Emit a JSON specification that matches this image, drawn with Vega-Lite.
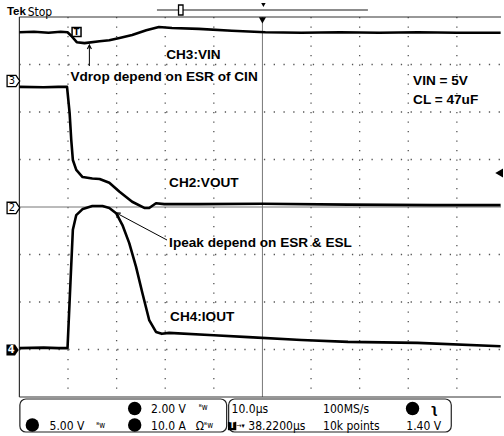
{
"$schema": "https://vega.github.io/schema/vega-lite/v6.json",
"width": 504, "height": 436,
"autosize": {"type": "fit", "contains": "padding"},
"padding": 0,
"background": "white",
"config": {"view": {"stroke": null}},
"datasets": {
"hgrid": [{"t":-50,"v":3,"t2":49.08,"v2":3},{"t":-50,"v":2,"t2":49.08,"v2":2},{"t":-50,"v":1,"t2":49.08,"v2":1},{"t":-50,"v":-1,"t2":49.08,"v2":-1},{"t":-50,"v":-2,"t2":49.08,"v2":-2},{"t":-50,"v":-3,"t2":49.08,"v2":-3}],
"vgrid": [{"t":-40,"v":4,"t2":-40,"v2":-4},{"t":-30,"v":4,"t2":-30,"v2":-4},{"t":-20,"v":4,"t2":-20,"v2":-4},{"t":-10,"v":4,"t2":-10,"v2":-4},{"t":10,"v":4,"t2":10,"v2":-4},{"t":20,"v":4,"t2":20,"v2":-4},{"t":30,"v":4,"t2":30,"v2":-4},{"t":40,"v":4,"t2":40,"v2":-4}],
"center": [{"t":0,"v":4,"t2":0,"v2":-4},{"t":-50,"v":0,"t2":49.08,"v2":0}],
"border": [{"t":-50,"v":-4,"t2":-50,"v2":4},{"t":-50,"v":4,"t2":49.08,"v2":4},{"t":-50,"v":-4,"t2":49.08,"v2":-4}],
"xt": [{"t":-48},{"t":-46},{"t":-44},{"t":-42},{"t":-40},{"t":-38},{"t":-36},{"t":-34},{"t":-32},{"t":-30},{"t":-28},{"t":-26},{"t":-24},{"t":-22},{"t":-20},{"t":-18},{"t":-16},{"t":-14},{"t":-12},{"t":-10},{"t":-8},{"t":-6},{"t":-4},{"t":-2},{"t":0},{"t":2},{"t":4},{"t":6},{"t":8},{"t":10},{"t":12},{"t":14},{"t":16},{"t":18},{"t":20},{"t":22},{"t":24},{"t":26},{"t":28},{"t":30},{"t":32},{"t":34},{"t":36},{"t":38},{"t":40},{"t":42},{"t":44},{"t":46},{"t":48}],
"yt": [{"v":-3.8},{"v":-3.6},{"v":-3.4},{"v":-3.2},{"v":-3},{"v":-2.8},{"v":-2.6},{"v":-2.4},{"v":-2.2},{"v":-2},{"v":-1.8},{"v":-1.6},{"v":-1.4},{"v":-1.2},{"v":-1},{"v":-0.8},{"v":-0.6},{"v":-0.4},{"v":-0.2},{"v":0},{"v":0.2},{"v":0.4},{"v":0.6},{"v":0.8},{"v":1},{"v":1.2},{"v":1.4},{"v":1.6},{"v":1.8},{"v":2},{"v":2.2},{"v":2.4},{"v":2.6},{"v":2.8},{"v":3},{"v":3.2},{"v":3.4},{"v":3.6},{"v":3.8}],
"traces": [
{"ch":"CH3","t":-50,"v":3.68},{"ch":"CH3","t":-47,"v":3.69},{"ch":"CH3","t":-44,"v":3.67},{"ch":"CH3","t":-41.5,"v":3.69},{"ch":"CH3","t":-40.1,"v":3.68},{"ch":"CH3","t":-39.3,"v":3.6},{"ch":"CH3","t":-38.2,"v":3.47},{"ch":"CH3","t":-36.6,"v":3.45},{"ch":"CH3","t":-33.5,"v":3.49},{"ch":"CH3","t":-31.5,"v":3.51},{"ch":"CH3","t":-29.4,"v":3.56},{"ch":"CH3","t":-26.8,"v":3.62},{"ch":"CH3","t":-23.9,"v":3.72},{"ch":"CH3","t":-21.3,"v":3.79},{"ch":"CH3","t":-18.6,"v":3.77},{"ch":"CH3","t":-13.1,"v":3.75},{"ch":"CH3","t":-6.3,"v":3.71},{"ch":"CH3","t":0.6,"v":3.68},{"ch":"CH3","t":8,"v":3.67},{"ch":"CH3","t":16,"v":3.68},{"ch":"CH3","t":24,"v":3.67},{"ch":"CH3","t":32,"v":3.68},{"ch":"CH3","t":40,"v":3.67},{"ch":"CH3","t":49,"v":3.67},
{"ch":"CH2","t":-50,"v":2.53},{"ch":"CH2","t":-45,"v":2.52},{"ch":"CH2","t":-42,"v":2.53},{"ch":"CH2","t":-40.2,"v":2.53},{"ch":"CH2","t":-39.67,"v":1.98},{"ch":"CH2","t":-39.33,"v":1.41},{"ch":"CH2","t":-39.0,"v":0.99},{"ch":"CH2","t":-38.3,"v":0.78},{"ch":"CH2","t":-37,"v":0.63},{"ch":"CH2","t":-35,"v":0.6},{"ch":"CH2","t":-33.5,"v":0.59},{"ch":"CH2","t":-31.5,"v":0.51},{"ch":"CH2","t":-29.4,"v":0.32},{"ch":"CH2","t":-26.8,"v":0.11},{"ch":"CH2","t":-24.3,"v":-0.02},{"ch":"CH2","t":-23.3,"v":-0.02},{"ch":"CH2","t":-21.9,"v":0.08},{"ch":"CH2","t":-20.2,"v":0.06},{"ch":"CH2","t":-13.1,"v":0.06},{"ch":"CH2","t":0,"v":0.07},{"ch":"CH2","t":17.6,"v":0.05},{"ch":"CH2","t":35,"v":0.04},{"ch":"CH2","t":49,"v":0.04},
{"ch":"CH4","t":-50,"v":-2.97},{"ch":"CH4","t":-45,"v":-2.96},{"ch":"CH4","t":-42,"v":-2.97},{"ch":"CH4","t":-40.1,"v":-2.97},{"ch":"CH4","t":-39.5,"v":-1.6},{"ch":"CH4","t":-39.0,"v":-0.48},{"ch":"CH4","t":-38.3,"v":-0.17},{"ch":"CH4","t":-36.95,"v":-0.04},{"ch":"CH4","t":-35,"v":0.02},{"ch":"CH4","t":-32.9,"v":0.02},{"ch":"CH4","t":-31.5,"v":-0.02},{"ch":"CH4","t":-30.1,"v":-0.13},{"ch":"CH4","t":-28.8,"v":-0.38},{"ch":"CH4","t":-27.4,"v":-0.76},{"ch":"CH4","t":-26,"v":-1.26},{"ch":"CH4","t":-24.7,"v":-1.81},{"ch":"CH4","t":-23.3,"v":-2.38},{"ch":"CH4","t":-21.9,"v":-2.63},{"ch":"CH4","t":-20.7,"v":-2.67},{"ch":"CH4","t":-19.2,"v":-2.65},{"ch":"CH4","t":-10,"v":-2.7},{"ch":"CH4","t":-2.9,"v":-2.74},{"ch":"CH4","t":8,"v":-2.8},{"ch":"CH4","t":17.6,"v":-2.84},{"ch":"CH4","t":31.9,"v":-2.86},{"ch":"CH4","t":49,"v":-2.93}
],
"chmark": [{"t":-51.23,"v":2.653,"label":"3"},{"t":-51.23,"v":-0.02,"label":"2"}],
"chmark4": [{"t":-51.4,"v":-3.01,"label":"4"}],
"trig": [{"t":-38.24,"v":3.684,"label":"T"}],
"topbar": [{"t":-21.7,"v":4.147,"t2":21.7,"v2":4.147}],
"barT": [{"t":-16.8,"v":4.147}],
"smalltri": [{"t":0.2,"v":4.253}],
"trigpos": [{"t":0,"v":3.93}],
"triglevel": [{"t":48.7,"v":0.716}],
"arrows": [{"t":-35.6,"v":2.968,"t2":-35.6,"v2":3.40},{"t":-19.63,"v":-0.695,"t2":-30.06,"v2":-0.126}],
"headUp": [{"t":-35.6,"v":3.41}],
"headIpeak": [{"t":-30.06,"v":-0.126}],
"notes": [{"t":-19.8,"v":3.2,"label":"CH3:VIN"},{"t":-39.5,"v":2.737,"label":"Vdrop depend on ESR of CIN"},{"t":-19.2,"v":0.505,"label":"CH2:VOUT"},{"t":-19.2,"v":-0.758,"label":"Ipeak depend on ESR & ESL"},{"t":-19.0,"v":-2.316,"label":"CH4:IOUT"},{"t":31.0,"v":2.653,"label":"VIN = 5V"},{"t":31.0,"v":2.253,"label":"CL = 47uF"}],
"tek": [{"t":-52.56,"v":4.105,"label":"Tek"}],
"stop": [{"t":-48.3,"v":4.105,"label":"Stop"}],
"boxes": [{"t":-49.9,"v":-4.042,"t2":-7.36,"v2":-4.737},{"t":-6.95,"v":-4.042,"t2":38.85,"v2":-4.737}],
"dots": [{"t":-47.34,"v":-4.589},{"t":-26.28,"v":-4.242},{"t":-26.28,"v":-4.589},{"t":30.88,"v":-4.242}],
"status": [{"t":-22.9,"v":-4.253,"label":"2.00 V"},{"t":-43.8,"v":-4.611,"label":"5.00 V"},{"t":-22.9,"v":-4.611,"label":"10.0 A"},{"t":-13.7,"v":-4.611,"label":"Ω"},{"t":-6.34,"v":-4.253,"label":"10.0µs"},{"t":12.47,"v":-4.253,"label":"100MS/s"},{"t":-2.9,"v":-4.611,"label":"38.2200µs"},{"t":12.47,"v":-4.611,"label":"10k points"},{"t":29.6,"v":-4.611,"label":"1.40 V"}],
"bw": [{"t":-13.1,"v":-4.24,"label":"ᴮw"},{"t":-34.2,"v":-4.6,"label":"ᴮw"},{"t":-12.0,"v":-4.6,"label":"ᴮw"}],
"slope": [{"t":34.56,"v":-4.253,"label":"ʅ"}],
"tbox": [{"t":-6.24,"v":-4.611,"label":"T"}],
"tarrow": [{"t":-5.4,"v":-4.611,"label":"→▾"}]
},
"encoding": {
"x": {"field":"t","type":"quantitative","scale":{"domain":[-53.99,49.08],"nice":false,"zero":false},"axis":null},
"y": {"field":"v","type":"quantitative","scale":{"domain":[-4.821,4.358],"nice":false,"zero":false},"axis":null}
},
"layer": [
{"data":{"name":"hgrid"},"mark":{"type":"rule","color":"#555","strokeWidth":1.3,"strokeDash":[1.3,8.48]},"encoding":{"x2":{"field":"t2"},"y2":{"field":"v2"}}},
{"data":{"name":"vgrid"},"mark":{"type":"rule","color":"#555","strokeWidth":1.3,"strokeDash":[1.3,8.2]},"encoding":{"x2":{"field":"t2"},"y2":{"field":"v2"}}},
{"data":{"name":"center"},"mark":{"type":"rule","color":"#777","strokeWidth":1},"encoding":{"x2":{"field":"t2"},"y2":{"field":"v2"}}},
{"data":{"name":"border"},"mark":{"type":"rule","color":"#333","strokeWidth":1.2},"encoding":{"x2":{"field":"t2"},"y2":{"field":"v2"}}},
{"data":{"name":"xt"},"mark":{"type":"tick","orient":"vertical","size":4,"thickness":1,"color":"#444","yOffset":2},"encoding":{"y":{"datum":4,"type":"quantitative","scale":{"domain":[-4.821,4.358],"nice":false,"zero":false},"axis":null}}},
{"data":{"name":"xt"},"mark":{"type":"tick","orient":"vertical","size":4,"thickness":1,"color":"#444","yOffset":-2},"encoding":{"y":{"datum":-4,"type":"quantitative","scale":{"domain":[-4.821,4.358],"nice":false,"zero":false},"axis":null}}},
{"data":{"name":"xt"},"mark":{"type":"tick","orient":"vertical","size":6,"thickness":1,"color":"#555"},"encoding":{"y":{"datum":0,"type":"quantitative","scale":{"domain":[-4.821,4.358],"nice":false,"zero":false},"axis":null}}},
{"data":{"name":"yt"},"mark":{"type":"tick","orient":"horizontal","size":4,"thickness":1,"color":"#444","xOffset":2},"encoding":{"x":{"datum":-50,"type":"quantitative","scale":{"domain":[-53.99,49.08],"nice":false,"zero":false},"axis":null}}},
{"data":{"name":"yt"},"mark":{"type":"tick","orient":"horizontal","size":6,"thickness":1,"color":"#555"},"encoding":{"x":{"datum":0,"type":"quantitative","scale":{"domain":[-53.99,49.08],"nice":false,"zero":false},"axis":null}}},
{"data":{"name":"traces"},"mark":{"type":"line","color":"#000","strokeWidth":2.6,"strokeJoin":"round"},"encoding":{"detail":{"field":"ch"}}},
{"data":{"name":"topbar"},"mark":{"type":"rule","color":"#666","strokeWidth":1.5},"encoding":{"x2":{"field":"t2"},"y2":{"field":"v2"}}},
{"data":{"name":"barT"},"mark":{"type":"point","shape":"M-0.45,-1L0.45,-1L0.45,1L-0.45,1Z","size":100,"filled":true,"fill":"white","stroke":"#000","strokeWidth":1.3,"opacity":1}},
{"data":{"name":"smalltri"},"mark":{"type":"point","shape":"triangle-down","size":20,"filled":true,"color":"#000","opacity":1}},
{"data":{"name":"trigpos"},"mark":{"type":"point","shape":"triangle-down","size":50,"filled":true,"color":"#000","opacity":1}},
{"data":{"name":"triglevel"},"mark":{"type":"point","shape":"triangle-left","size":80,"filled":true,"color":"#000","opacity":1}},
{"data":{"name":"chmark"},"mark":{"type":"point","shape":"M-1,-0.9L0.4,-0.9L1,0L0.4,0.9L-1,0.9Z","size":160,"filled":true,"fill":"white","stroke":"#000","strokeWidth":1.3,"opacity":1}},
{"data":{"name":"chmark"},"mark":{"type":"text","font":"DejaVu Sans Condensed","fontSize":11,"dx":-1.5,"color":"#000"},"encoding":{"text":{"field":"label"}}},
{"data":{"name":"chmark4"},"mark":{"type":"point","shape":"M-1,-0.9L0.4,-0.9L1,0L0.4,0.9L-1,0.9Z","size":150,"filled":true,"color":"#000","opacity":1}},
{"data":{"name":"chmark4"},"mark":{"type":"text","font":"DejaVu Sans Condensed","fontSize":11,"fontWeight":"bold","dx":-1.5,"color":"white"},"encoding":{"text":{"field":"label"}}},
{"data":{"name":"trig"},"mark":{"type":"point","shape":"square","size":80,"filled":true,"fill":"white","stroke":"#000","strokeWidth":1.5,"opacity":1}},
{"data":{"name":"trig"},"mark":{"type":"text","font":"DejaVu Sans Condensed","fontSize":9,"fontWeight":"bold","color":"#000"},"encoding":{"text":{"field":"label"}}},
{"data":{"name":"arrows"},"mark":{"type":"rule","color":"#000","strokeWidth":1},"encoding":{"x2":{"field":"t2"},"y2":{"field":"v2"}}},
{"data":{"name":"headUp"},"mark":{"type":"point","shape":"M-0.5,1L0,0L0.5,1","size":64,"filled":false,"stroke":"#000","strokeWidth":1.2,"opacity":1}},
{"data":{"name":"headIpeak"},"mark":{"type":"point","shape":"M-0.5,1L0,0L0.5,1","size":64,"filled":false,"stroke":"#000","strokeWidth":1.2,"opacity":1,"angle":298}},
{"data":{"name":"notes"},"mark":{"type":"text","align":"left","baseline":"middle","font":"Liberation Sans","fontWeight":"bold","fontSize":13.6,"color":"#000"},"encoding":{"text":{"field":"label"}}},
{"data":{"name":"tek"},"mark":{"type":"text","align":"left","baseline":"middle","font":"Liberation Sans","fontWeight":"bold","fontSize":11.5,"color":"#000"},"encoding":{"text":{"field":"label"}}},
{"data":{"name":"stop"},"mark":{"type":"text","align":"left","baseline":"middle","font":"DejaVu Sans Condensed","fontSize":12,"color":"#000"},"encoding":{"text":{"field":"label"}}},
{"data":{"name":"boxes"},"mark":{"type":"rect","fill":"white","stroke":"#222","strokeWidth":1.2,"cornerRadius":6},"encoding":{"x2":{"field":"t2"},"y2":{"field":"v2"}}},
{"data":{"name":"dots"},"mark":{"type":"point","shape":"circle","size":180,"filled":true,"color":"#000","opacity":1}},
{"data":{"name":"status"},"mark":{"type":"text","align":"left","baseline":"middle","font":"DejaVu Sans Condensed","fontSize":12,"color":"#000"},"encoding":{"text":{"field":"label"}}},
{"data":{"name":"bw"},"mark":{"type":"text","align":"left","baseline":"middle","font":"DejaVu Sans Condensed","fontSize":8,"color":"#000"},"encoding":{"text":{"field":"label"}}},
{"data":{"name":"slope"},"mark":{"type":"text","align":"left","baseline":"middle","font":"DejaVu Sans","fontSize":12,"fontWeight":"bold","color":"#000"},"encoding":{"text":{"field":"label"}}},
{"data":{"name":"tbox"},"mark":{"type":"point","shape":"square","size":70,"filled":true,"color":"#000","opacity":1}},
{"data":{"name":"tbox"},"mark":{"type":"text","font":"DejaVu Sans Condensed","fontSize":8,"fontWeight":"bold","color":"white"},"encoding":{"text":{"field":"label"}}},
{"data":{"name":"tarrow"},"mark":{"type":"text","align":"left","baseline":"middle","font":"DejaVu Sans Condensed","fontSize":7,"color":"#000"},"encoding":{"text":{"field":"label"}}}
]
}
